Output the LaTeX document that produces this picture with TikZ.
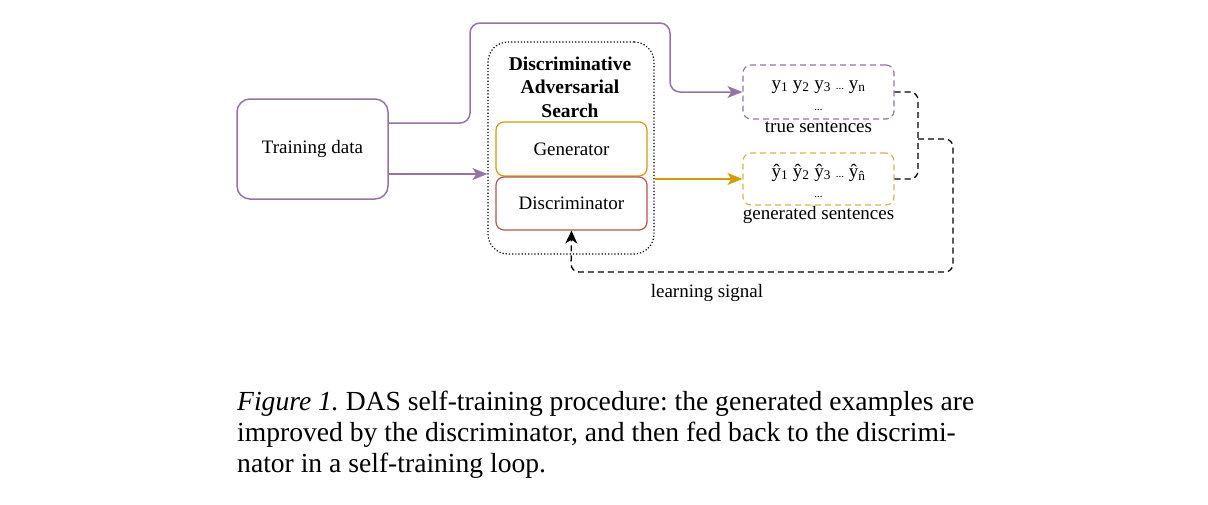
\documentclass[tikz,border=0pt]{standalone}
\usepackage{fontspec}
\setmainfont{Liberation Serif}
\usetikzlibrary{arrows.meta,calc}
\definecolor{purp}{HTML}{9673A6}
\definecolor{orng}{HTML}{D79B00}
\definecolor{yell}{HTML}{D6B656}
\definecolor{redd}{HTML}{B85450}
\frenchspacing
\begin{document}
\begin{tikzpicture}[x=1pt,y=-1pt,
  dfont/.style={font=\fontsize{19}{22}\selectfont},
  box/.style={draw,rounded corners=8,minimum width=151,minimum height=54,line width=1.2,dfont,inner sep=0},
  dbox/.style={box,dash pattern=on 6pt off 4pt},
  plink/.style={draw=purp,line width=1.5,-{Stealth[length=15,width=12,inset=4]}},
  olink/.style={draw=orng,line width=1.5,-{Stealth[length=15,width=12,inset=4]}},
  blink/.style={draw=black,line width=1.3,dash pattern=on 6pt off 4pt,rounded corners=8}
]
\useasboundingbox (0,0) rectangle (1208,504);
\fill[white] (0,0) rectangle (1208,504);

\node[box,draw=purp,rounded corners=13,minimum height=100,line width=1.5] (train) at (312.5,149) {Training data};
\node[draw,dotted,line width=1.2,rounded corners=20,minimum width=166,minimum height=212] (das) at (571,148) {};
\node[font=\fontsize{19.5}{23.5}\selectfont\bfseries,align=center,anchor=base] (title) at (570,117) {Discriminative\\Adversarial\\Search};
\node[box,draw=orng] (gen) at (571.5,149) {Generator};
\node[box,draw=redd,minimum height=53] (disc) at (571.5,203.5) {Discriminator};

\node[dbox,draw=purp,minimum height=54] (ytrue) at (818.5,92) {};
\node[dfont,anchor=base] (yt) at (818.5,89) {y\textsubscript{1} y\textsubscript{2} y\textsubscript{3} {\fontsize{11}{11}\selectfont...} y\textsubscript{n}};
\node[dfont,anchor=base] (ytd) at (818.5,110) {\fontsize{11}{11}\selectfont...};
\node[dfont,anchor=base] (tl) at (818.5,132) {true sentences};

\node[dbox,draw=yell,minimum height=52] (yhat) at (818.5,179) {};
\node[dfont,anchor=base] (yh) at (818.5,177) {\^{y}\textsubscript{1} \^{y}\textsubscript{2} \^{y}\textsubscript{3} {\fontsize{11}{11}\selectfont...} \^{y}\textsubscript{\^{n}}};
\node[dfont,anchor=base] (yhd) at (818.5,197) {\fontsize{11}{11}\selectfont...};
\node[dfont,anchor=base] (gl) at (818.5,219) {generated sentences};

\node[dfont,anchor=base] (ls) at (707,297) {learning signal};

\draw[plink,rounded corners=10] ([yshift=26]train.east) -- (470,123) -- (470,23) -- (670,23) -- (670,92) -- (ytrue.west);
\draw[plink] ([yshift=-25]train.east) -- (das.west |- 0,174);
\draw[olink] (das.east |- yhat.west) -- (yhat.west);

\coordinate (m) at (918,139);
\draw[blink] (ytrue.east) -| (m);
\draw[blink] (yhat.east) -| (m);
\draw[blink,-{Stealth[length=13,width=12,inset=4]}] (m) -- (953,139) -- (953,272) -- (571,272) -- (disc.south);

\node[anchor=base west,align=left,font=\fontsize{27.6}{31}\selectfont,inner sep=0] (cap) at (237,472)
 {\textit{Figure 1.} DAS self-training procedure: the generated examples are\\
  improved by the discriminator, and then fed back to the discrimi-\\
  nator in a self-training loop.};
\end{tikzpicture}
\end{document}
